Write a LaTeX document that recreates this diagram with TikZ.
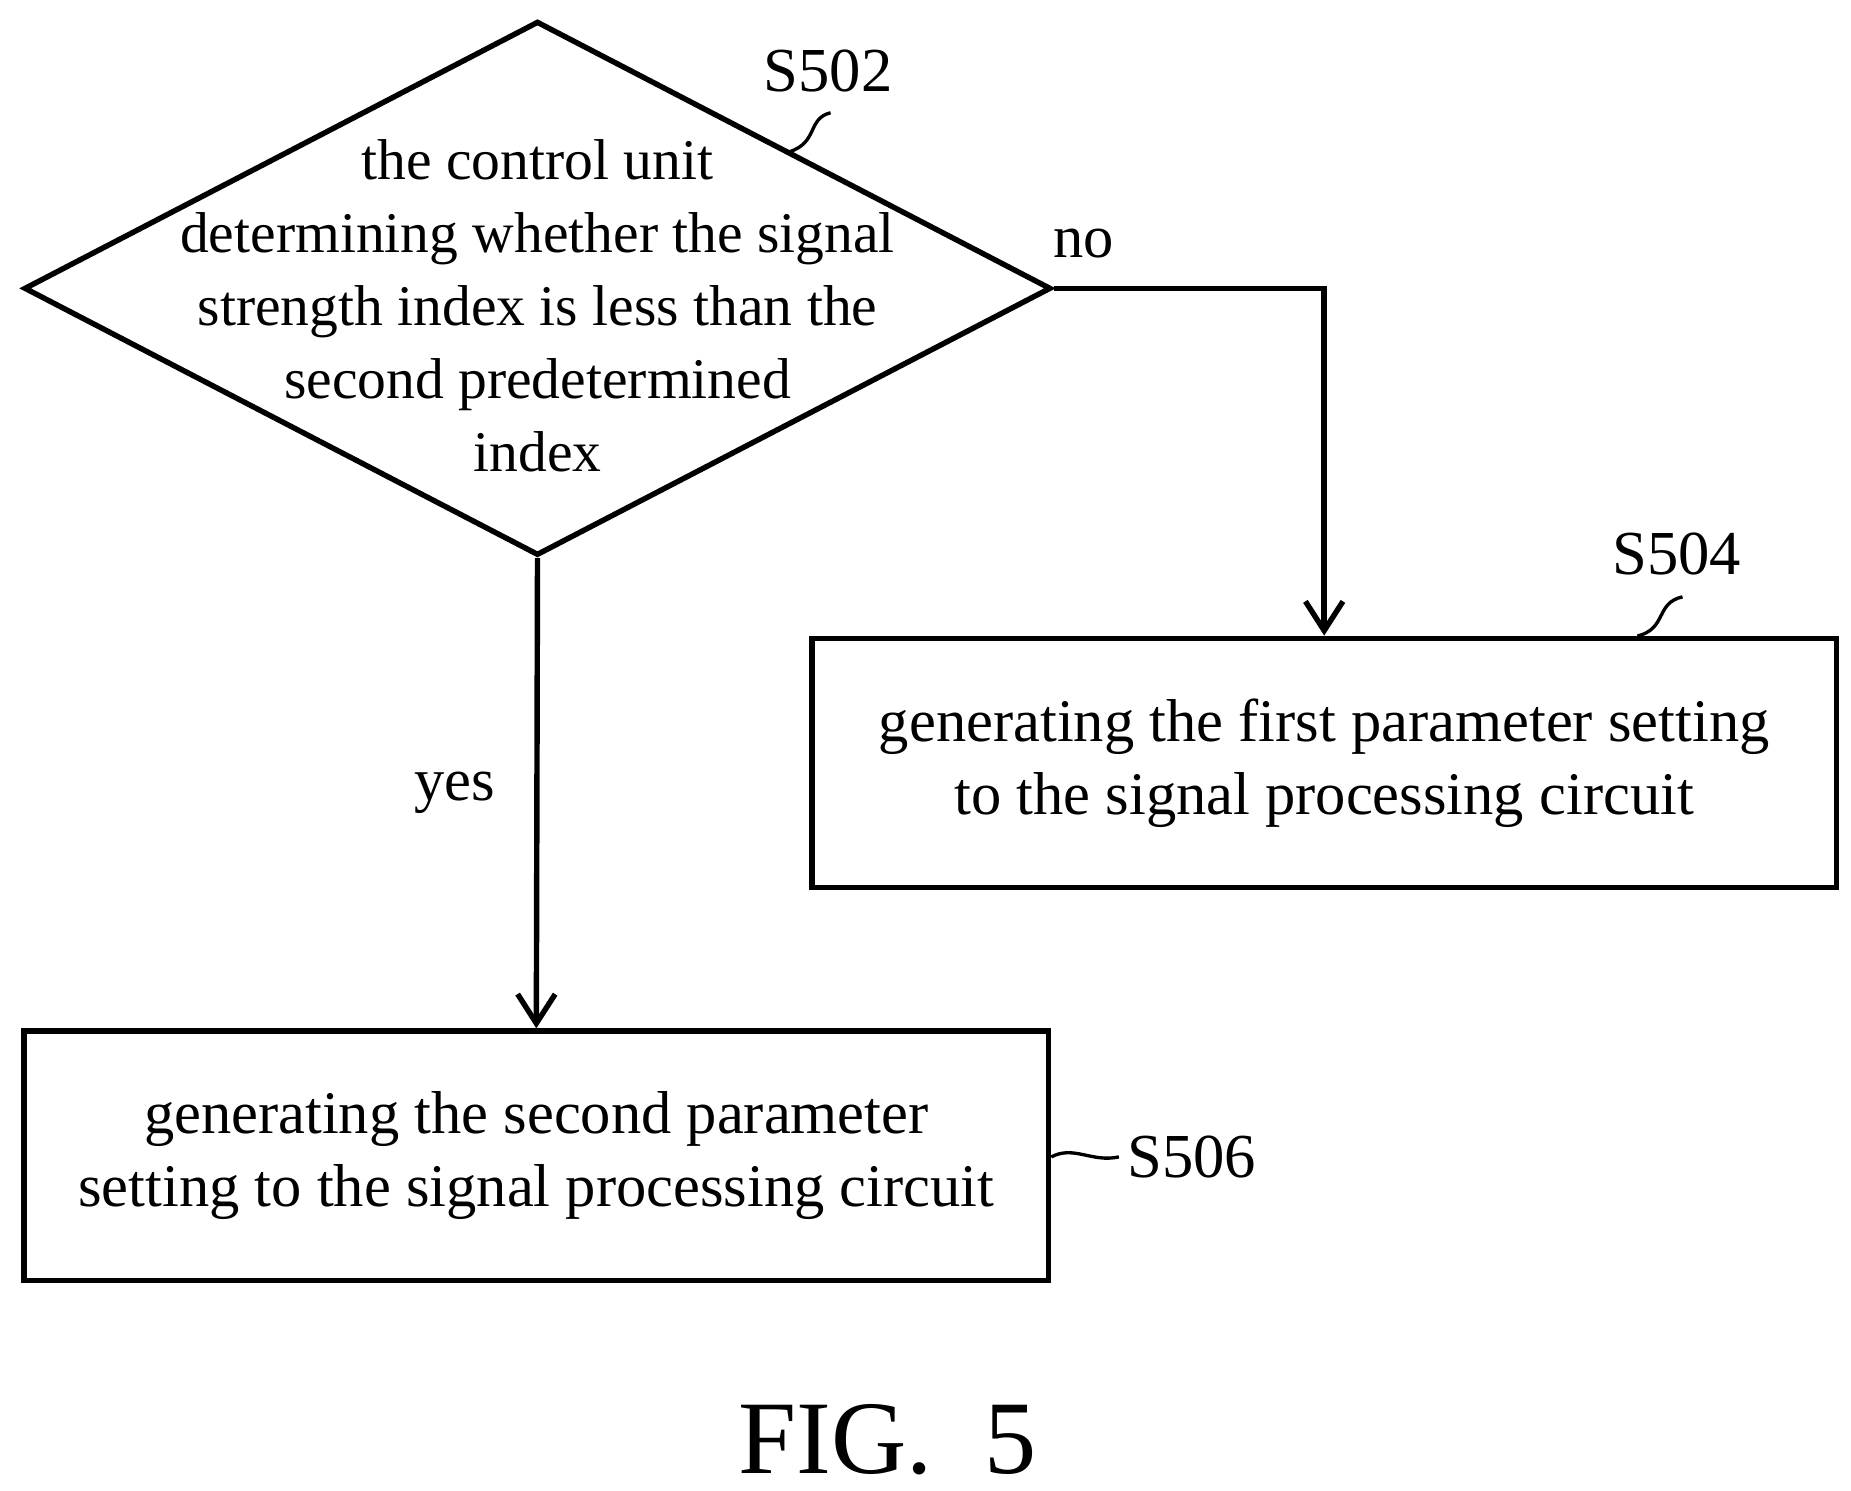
\documentclass[tikz,border=0pt]{standalone}
\usepackage{fontspec}
\setmainfont{Liberation Serif}
\usetikzlibrary{shapes.geometric,arrows.meta}

\begin{document}
\begin{tikzpicture}[x=0.01cm,y=-0.01cm,line width=1.3pt,
    font=\fontsize{14.5}{17.5}\selectfont,
    arr/.style={-{Straight Barb[length=7pt,width=9pt]}},
    box/.style={draw,minimum width=8.63cm,minimum height=2.1cm,align=center,inner sep=0pt},
    cond/.style={diamond,draw,minimum width=8.65cm,minimum height=4.5cm,aspect=1.92,inner sep=0pt,align=center},
    tag/.style={font=\fontsize{15}{18}\selectfont}]
    \useasboundingbox (0,0) rectangle (1560,1256);

    \node[cond] (s502) at (453,243) {};
    \node[align=center,font=\fontsize{13.8}{17.5}\selectfont] (t502) at (453,258)
    { the control unit\\determining whether the signal\\strength index is less than the\\second predetermined\\index };

    \node[box] (s504) at (1116,643)
    { generating the first parameter setting\\to the signal processing circuit };
    \node[box] (s506) at (452,974)
    { generating the second parameter\\setting to the signal processing circuit };

    \coordinate (corner) at (1116,243);
    \draw[arr] (s502.east) -- (corner) -- (s504.north);
    \draw[arr] (s502.south) -- node[left=6pt] {yes} (s506.north);
    \node (no) at (913,205) {no};

    % step labels
    \node[tag] (l502) at (698,60) {S502};
    \node[tag] (l504) at (1413,467) {S504};
    \node[tag,anchor=west,inner sep=0pt] (l506) at (948,975) {S506};
    \draw[line width=0.8pt] (665,128) .. controls (690,120) and (680,100) .. (700,95);
    \draw[line width=0.8pt] (1380,536) .. controls (1405,530) and (1395,508) .. (1418,503);
    \draw[line width=0.8pt] (886,975) .. controls (905,965) and (920,980) .. (943,975);

    \node[font=\fontsize{25}{30}\selectfont] (fig) at (748,1213) {FIG.\ \ 5};
\end{tikzpicture}
\end{document}
